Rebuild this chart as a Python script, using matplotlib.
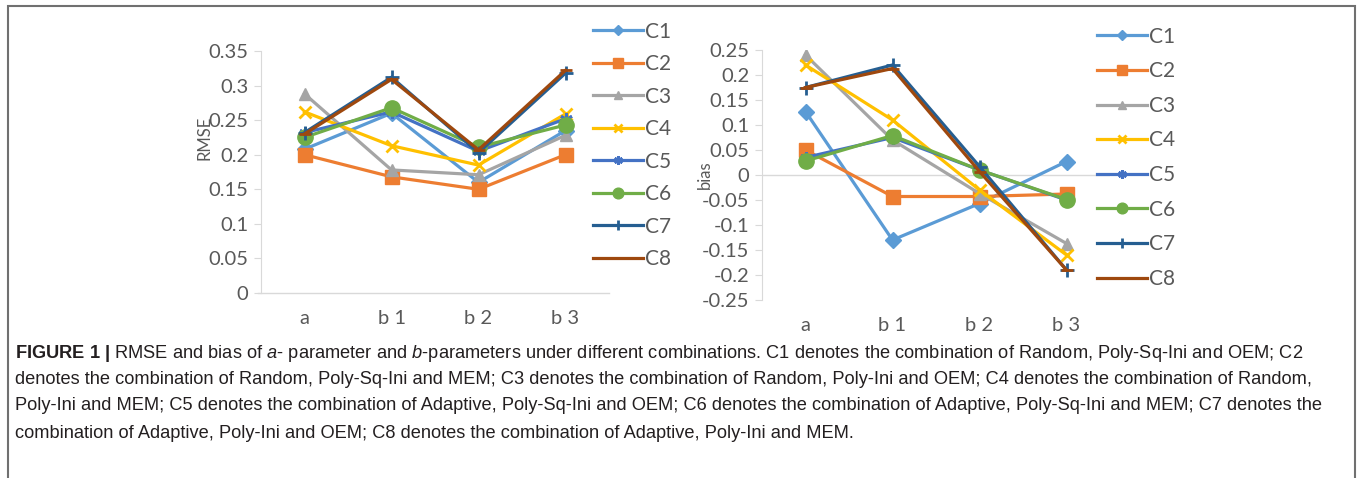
import matplotlib
matplotlib.use("Agg")
import matplotlib.pyplot as plt
from matplotlib.patches import Rectangle

plt.rcParams['mathtext.fontset'] = 'custom'
plt.rcParams['mathtext.rm'] = 'Liberation Sans'
plt.rcParams['mathtext.it'] = 'Liberation Sans:italic'
plt.rcParams['mathtext.bf'] = 'Liberation Sans:bold'

#Categories and series
categories = ["a", "b 1", "b 2", "b 3"]
series_names = ["C1", "C2", "C3", "C4", "C5", "C6", "C7", "C8"]

rmse = {
    "C1": [0.208, 0.260, 0.160, 0.235],
    "C2": [0.200, 0.168, 0.150, 0.200],
    "C3": [0.288, 0.178, 0.171, 0.228],
    "C4": [0.262, 0.213, 0.185, 0.259],
    "C5": [0.232, 0.262, 0.205, 0.252],
    "C6": [0.225, 0.268, 0.211, 0.243],
    "C7": [0.232, 0.312, 0.203, 0.318],
    "C8": [0.230, 0.309, 0.207, 0.322],
}

bias = {
    "C1": [0.127, -0.130, -0.057, 0.027],
    "C2": [0.050, -0.043, -0.043, -0.038],
    "C3": [0.240, 0.070, -0.037, -0.137],
    "C4": [0.220, 0.110, -0.030, -0.160],
    "C5": [0.035, 0.075, 0.010, -0.050],
    "C6": [0.028, 0.079, 0.010, -0.049],
    "C7": [0.175, 0.220, 0.017, -0.190],
    "C8": [0.175, 0.213, 0.007, -0.190],
}

rmse_ticks = [0, 0.05, 0.1, 0.15, 0.2, 0.25, 0.3, 0.35]
rmse_ticklabels = ["0", "0.05", "0.1", "0.15", "0.2", "0.25", "0.3", "0.35"]
bias_ticks = [-0.25, -0.2, -0.15, -0.1, -0.05, 0, 0.05, 0.1, 0.15, 0.2, 0.25]
bias_ticklabels = ["-0.25", "-0.2", "-0.15", "-0.1", "-0.05", "0", "0.05", "0.1", "0.15", "0.2", "0.25"]

#Excel-like styles
colors = {"C1": "#5B9BD5", "C2": "#ED7D31", "C3": "#A5A5A5", "C4": "#FFC000",
          "C5": "#4472C4", "C6": "#70AD47", "C7": "#255E91", "C8": "#9E480E"}
markers = {"C1": "D", "C2": "s", "C3": "^", "C4": "x",
           "C5": (6, 2, 0), "C6": "o", "C7": "+", "C8": "_"}
msizes = {"C1": 8, "C2": 10, "C3": 9, "C4": 9, "C5": 9, "C6": 11, "C7": 10, "C8": 8}

AXIS_GRAY = "#D9D9D9"
TEXT_GRAY = "#595959"
FONT = "Lato"

fig = plt.figure(figsize=(13.57, 4.78), dpi=100)

#Border of the figure panel
fig.patches.append(Rectangle((8/1357, -0.05), 1347/1357, 1.05 - 6/478, transform=fig.transFigure,
                             fill=False, edgecolor="#707070", linewidth=1.5))


def style_axis(ax, ticks, ticklabels, ylabel, label_xy):
    x = list(range(len(categories)))
    ax.set_xlim(-0.5, len(categories) - 0.5)
    ax.set_xticks(x)
    ax.set_xticklabels(categories)
    ax.set_yticks(ticks)
    ax.set_yticklabels(ticklabels)
    for s in ["top", "right", "bottom"]:
        ax.spines[s].set_visible(False)
    ax.spines["left"].set_color(AXIS_GRAY)
    ax.tick_params(axis="y", colors=AXIS_GRAY, labelcolor=TEXT_GRAY, length=5, labelsize=14.5, pad=4)
    ax.tick_params(axis="x", length=0, labelcolor=TEXT_GRAY, labelsize=14.5, pad=12)
    for lbl in ax.get_xticklabels() + ax.get_yticklabels():
        lbl.set_fontfamily(FONT)
    ax.set_ylabel(ylabel, fontsize=12, color=TEXT_GRAY, family=FONT)
    ax.yaxis.set_label_coords(*label_xy)
    ax.set_facecolor("none")


def draw_series(ax, data):
    x = list(range(len(categories)))
    handles = []
    for name in series_names:
        h, = ax.plot(x, data[name], color=colors[name], linewidth=2.3,
                     marker=markers[name], markersize=msizes[name],
                     markeredgewidth=2 if name in ("C4", "C5", "C7", "C8") else 1,
                     label=name, solid_joinstyle="miter")
        handles.append(h)
    return handles


def add_legend(handles, anchor, spacing):
    leg = fig.legend(handles=handles, loc="upper left", bbox_to_anchor=anchor,
                     frameon=False, handlelength=2.4, labelspacing=spacing,
                     handletextpad=0.1, markerscale=0.7, prop={"family": FONT, "size": 15})
    for t in leg.get_texts():
        t.set_color(TEXT_GRAY)
    return leg


#Left panel: RMSE
ax1 = fig.add_axes([261/1357, (478-293)/478, 348/1357, 242/478])
ax1.set_ylim(0, 0.35)
ax1.axhline(0, color=AXIS_GRAY, linewidth=1, xmin=-0.01, clip_on=False)
h1 = draw_series(ax1, rmse)
style_axis(ax1, rmse_ticks, rmse_ticklabels, "RMSE", (-0.138, 0.64))
add_legend(h1, (574/1357, 1 - 3/478), 0.60)

#Right panel: bias
ax2 = fig.add_axes([762/1357, (478-300)/478, 348/1357, 250/478])
ax2.set_ylim(-0.25, 0.25)
ax2.axhline(0, color=AXIS_GRAY, linewidth=1, zorder=0)
h2 = draw_series(ax2, bias)
style_axis(ax2, bias_ticks, bias_ticklabels, "bias", (-0.141, 0.5))
add_legend(h2, (1078/1357, 1 - 8/478), 0.70)

#Caption
caption_lines = [
    r"$\mathbf{FIGURE\ 1\ |}$ RMSE and bias of $\mathit{a}$- parameter and $\mathit{b}$-parameters under different combinations. C1 denotes the combination of Random, Poly-Sq-Ini and OEM; C2",
    "denotes the combination of Random, Poly-Sq-Ini and MEM; C3 denotes the combination of Random, Poly-Ini and OEM; C4 denotes the combination of Random,",
    "Poly-Ini and MEM; C5 denotes the combination of Adaptive, Poly-Sq-Ini and OEM; C6 denotes the combination of Adaptive, Poly-Sq-Ini and MEM; C7 denotes the",
    "combination of Adaptive, Poly-Ini and OEM; C8 denotes the combination of Adaptive, Poly-Ini and MEM.",
]
caption_y = [353, 380, 406, 433]
for line, y in zip(caption_lines, caption_y):
    fig.text(15/1357, 1 - y/478, line, fontsize=13.15, family="Liberation Sans",
             color="#231F20", va="center", ha="left")

fig.savefig("out.png", dpi=100)
